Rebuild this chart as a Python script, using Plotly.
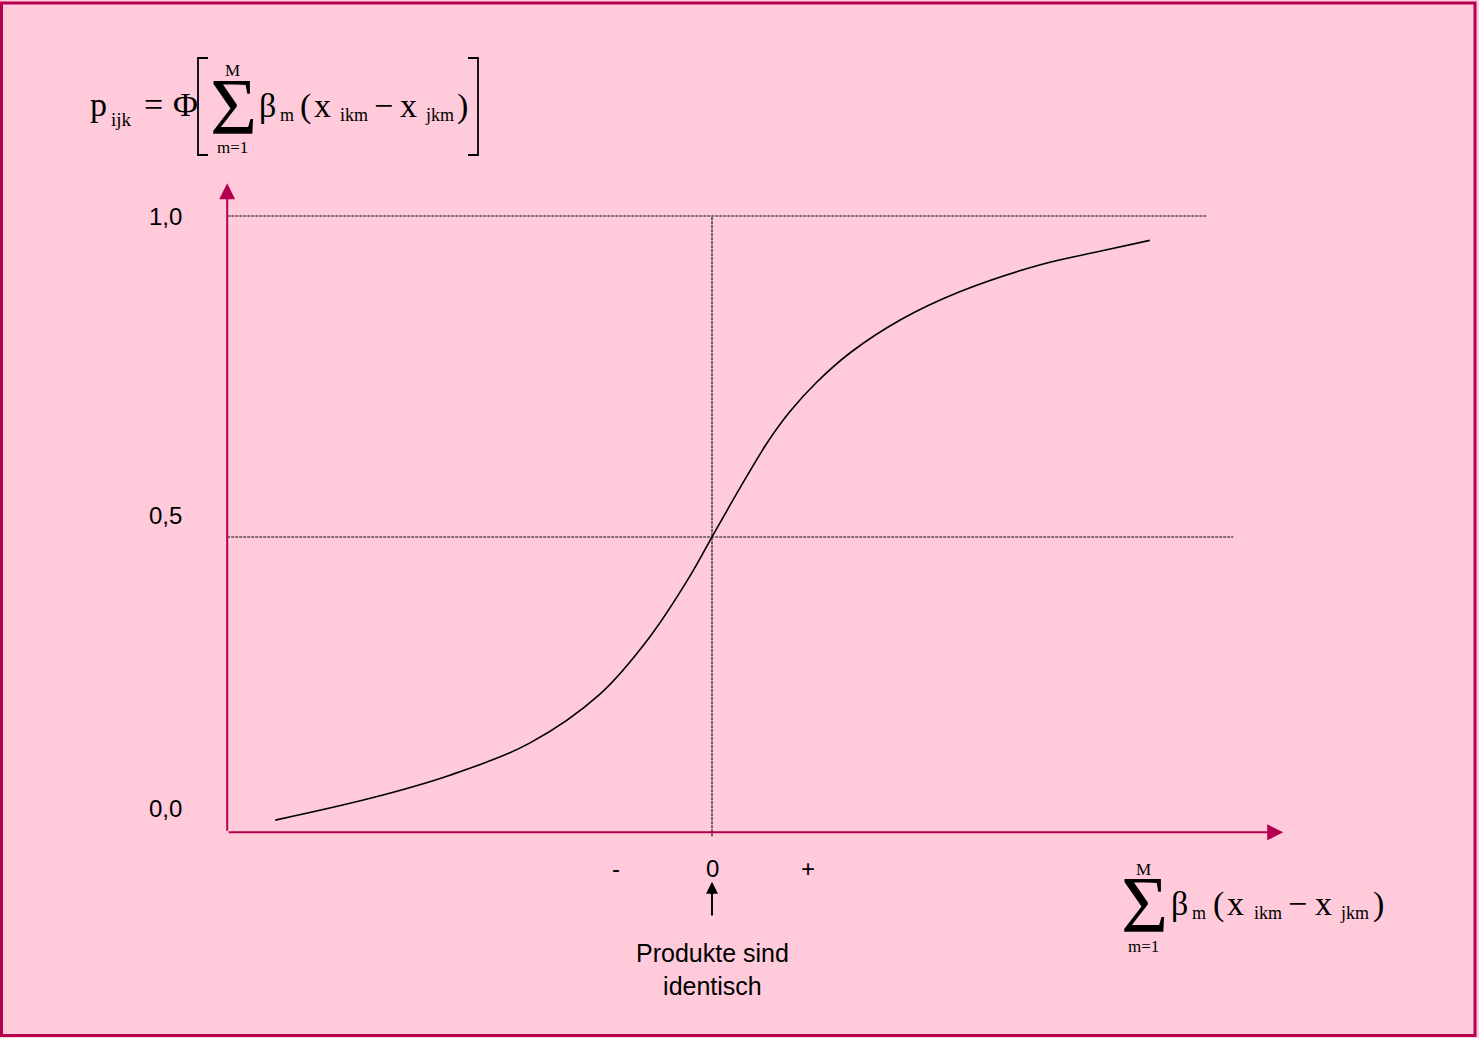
import plotly.graph_objects as go

W, H = 1479, 1038

# data (x in "sum of beta*diff" units, p = probability)
curve_x = [-4.55, -3.56, -2.73, -1.90, -1.17, -0.65, -0.23, 0.0,
           0.29, 0.58, 0.81, 1.09, 1.44, 1.96, 2.58, 3.42, 4.04, 4.56]
curve_p = [0.059, 0.093, 0.129, 0.179, 0.255, 0.344, 0.439, 0.500,
           0.576, 0.648, 0.695, 0.741, 0.787, 0.838, 0.882, 0.924,
           0.945, 0.962]

p_levels = [1.0, 0.5]
p_level_ends = [5.15, 5.43]
y_tick_text = ["1,0", "0,5", "0,0"]
x_tick_pos = [-1, 0, 1]
x_tick_text = ["-", "0", "+"]

# axes of the drawing
axis_x0, axis_x1 = -5.05, 5.95
axis_y0, axis_y1 = 0.04, 1.051

PINK = "#FFCBDA"
CRIMSON = "#B5004F"
SERIF = "Liberation Serif, Times New Roman, serif"
SANS = "Liberation Sans, Arial, sans-serif"


def px(x):
    return x / W


def py(y):
    return 1 - y / H


fig = go.Figure()

# S-curve
fig.add_trace(go.Scatter(x=curve_x, y=curve_p, mode="lines",
                         line=dict(color="black", width=1.6, shape="spline"),
                         hoverinfo="skip"))

# reference lines at p = 1,0 and 0,5
for lvl, end in zip(p_levels, p_level_ends):
    fig.add_shape(type="line", x0=axis_x0, x1=end, y0=lvl, y1=lvl,
                  line=dict(color="#111111", width=1.2, dash="3px,1px"))
fig.add_shape(type="line", x0=0, x1=0, y0=0.034, y1=p_levels[0],
              line=dict(color="#111111", width=1.2, dash="3px,1px"))

# axes with arrows
fig.add_annotation(x=axis_x1, y=axis_y0, ax=axis_x0, ay=axis_y0,
                   xref="x", yref="y", axref="x", ayref="y", text="",
                   showarrow=True, arrowhead=2, arrowsize=1.6,
                   arrowwidth=2, arrowcolor=CRIMSON)
fig.add_annotation(x=axis_x0, y=axis_y1, ax=axis_x0, ay=axis_y0,
                   xref="x", yref="y", axref="x", ayref="y", text="",
                   showarrow=True, arrowhead=2, arrowsize=1.6,
                   arrowwidth=2, arrowcolor=CRIMSON)

# arrow under zero
fig.add_annotation(x=0, y=-0.037, ax=0, ay=-0.092,
                   xref="x", yref="y", axref="x", ayref="y", text="",
                   showarrow=True, arrowhead=2, arrowsize=1.2,
                   arrowwidth=2, arrowcolor="black")


def label(x, y, text, size, family=SANS, xanchor="center"):
    fig.add_annotation(x=px(x), y=py(y), xref="paper", yref="paper",
                       text=text, showarrow=False, xanchor=xanchor,
                       yanchor="middle",
                       font=dict(family=family, size=size, color="black"))


# tick labels
for t, yy in zip(y_tick_text, [216, 515, 808]):
    label(165, yy, t, 24)
for pos, t in zip(x_tick_pos, x_tick_text):
    fig.add_annotation(x=pos, y=-0.016, xref="x", yref="y", text=t,
                       showarrow=False, yanchor="middle",
                       font=dict(family=SANS, size=24, color="black"))

label(712, 969, "Produkte sind<br>identisch", 25)


def sum_term(x0, base, stretch=1.0):
    # x0 = left edge of the sigma, base = baseline of the main text
    label(x0 + 21, base - 9, "\u03a3", 81, SERIF)
    label(x0 + 20, base - 45, "M", 17, SERIF)
    label(x0 + 20, base + 32, "m=1", 17, SERIF)
    parts = [(45, 0, "\u03b2", 34), (66, 4, "m", 18), (86, 0, "(", 34),
             (100, 0, "x", 34), (126, 4, "ikm", 18), (160, 0, "\u2212", 34),
             (186, 0, "x", 34), (211, 4, "jkm", 18), (243, 0, ")", 34)]
    for dx, dy, t, s in parts:
        label(x0 + dx * stretch, base - 0.3 * s + dy, t, s, SERIF, "left")


# formula top left
label(88, 104, "p", 34, SERIF, "left")
label(109, 119, "ijk", 19, SERIF, "left")
label(142, 104, "=", 34, SERIF, "left")
label(171, 104, "\u03a6", 34, SERIF, "left")
for xv, xt in [(198, 208), (478, 468)]:
    fig.add_shape(type="path", xref="paper", yref="paper",
                  path=f"M{px(xt)},{py(58)} L{px(xv)},{py(58)} "
                       f"L{px(xv)},{py(155)} L{px(xt)},{py(155)}",
                  line=dict(color="black", width=1.8))
sum_term(212, 116)

# formula bottom right (x axis title)
sum_term(1123, 914, 1.02)

# frame
fig.add_shape(type="rect", xref="paper", yref="paper",
              x0=px(1.5), x1=px(1475), y0=py(3), y1=py(1035.5),
              line=dict(color=CRIMSON, width=3))

fig.update_layout(width=W, height=H, margin=dict(l=0, r=0, t=0, b=0),
                  paper_bgcolor=PINK, plot_bgcolor=PINK, showlegend=False,
                  xaxis=dict(visible=False, range=[-712 / 96, (W - 712) / 96]),
                  yaxis=dict(visible=False, range=[(858 - H) / 642, 858 / 642]))

fig.write_html("out.html", config={"displayModeBar": False},
               post_script="document.body.style.margin='0';"
                           "document.body.style.overflow='hidden';")
